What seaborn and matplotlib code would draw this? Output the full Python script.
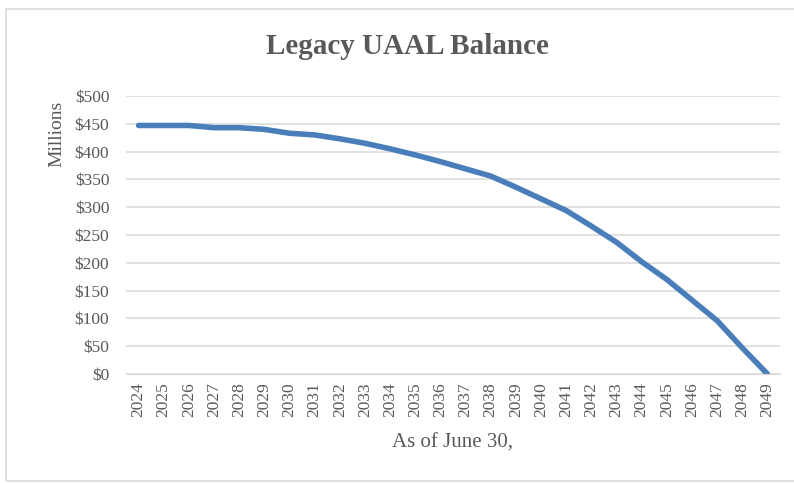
import matplotlib
matplotlib.use("Agg")
import matplotlib.pyplot as plt
import seaborn as sns
import pandas as pd
from matplotlib.patches import Rectangle
from matplotlib.ticker import FuncFormatter

# data ($ millions)
years = list(range(2024, 2050))
balance = [447, 447, 447, 443, 443, 440, 433, 430, 423, 415, 405, 394, 382,
           369, 356, 336, 315, 294, 266, 237, 202, 170, 133, 96, 47, 0]

df = pd.DataFrame({"year": years, "balance": balance})

sns.set_style("white")
plt.rcParams["font.family"] = ["Liberation Serif", "DejaVu Serif"]

txt = "#595959"
fig = plt.figure(figsize=(7.94, 4.83), dpi=100)
ax = fig.add_axes([126 / 794, 1 - 374 / 483, 654 / 794, 278 / 483])

# chart border (right side cut off in the original)
fig.patches.append(Rectangle((6 / 794, 2 / 483), 1.2, 1 - 11 / 483,
                             transform=fig.transFigure, fill=False,
                             edgecolor="#D9D9D9", lw=1.2))

sns.lineplot(data=df, x="year", y="balance", ax=ax, color="#4A7EBB",
             lw=4, solid_capstyle="round")

ax.set_xlim(2023.5, 2049.5)
ax.set_ylim(0, 500)
ax.set_yticks(range(0, 501, 50))
ax.yaxis.set_major_formatter(FuncFormatter(lambda v, p: f"${v:.0f}"))
ax.set_xticks(years)
ax.set_xticklabels([str(y) for y in years], rotation=90)
ax.grid(axis="y", color="#D9D9D9", lw=1.1)
ax.set_axisbelow(True)
for s in ["top", "right", "left"]:
    ax.spines[s].set_visible(False)
ax.spines["bottom"].set_color("#D9D9D9")
ax.tick_params(axis="both", length=0, labelsize=12.5, colors=txt)
ax.tick_params(axis="y", pad=12)
ax.tick_params(axis="x", pad=6)

ax.set_xlabel("As of June 30,", fontsize=15, color=txt, labelpad=12)
ax.set_ylabel("")
fig.text(57 / 794, 1 - 134 / 483, "Millions", rotation=90, fontsize=14,
         color=txt, ha="center", va="center")
fig.text(407 / 794, 1 - 47 / 483, "Legacy UAAL Balance", fontsize=21,
         fontweight="bold", color=txt, ha="center", va="center")

fig.savefig("out.png", dpi=100)
